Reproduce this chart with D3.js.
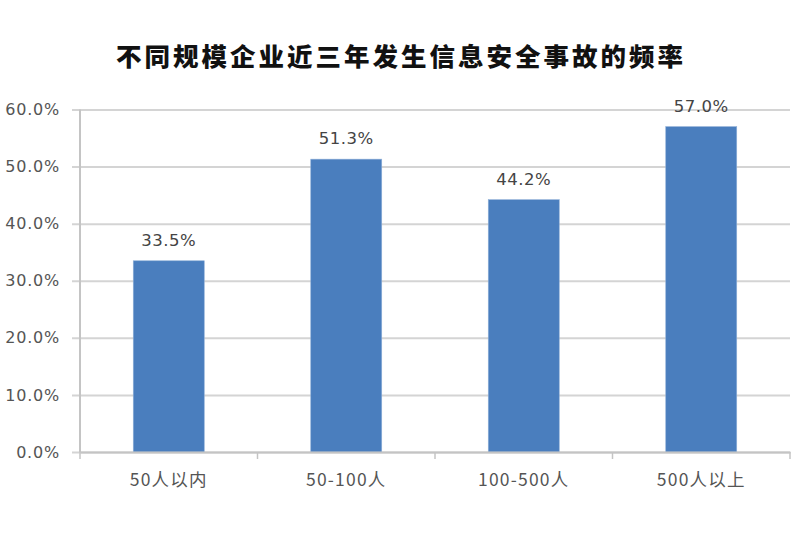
<!DOCTYPE html>
<html>
<head>
<meta charset="utf-8">
<script src="https://cdn.jsdelivr.net/npm/d3@7"></script>
<style>
  html, body { margin: 0; padding: 0; background: #fff; }
  svg { display: block; }
</style>
</head>
<body>
<svg id="chart" width="800" height="550"></svg>
<script>
const title = "不同规模企业近三年发生信息安全事故的频率";
const categories = ["50人以内", "50-100人", "100-500人", "500人以上"];
const values = [33.5, 51.3, 44.2, 57.0];
const yTicks = [0, 10, 20, 30, 40, 50, 60];

(function () {
const svg = d3.select("#chart");
const pLeft = 80, pRight = 790, pTop = 109.5, pBottom = 452;
const font = "'Noto Sans CJK SC', 'Noto Sans', sans-serif";

const x = d3.scaleBand().domain(categories).range([pLeft, pRight])
  .paddingInner(0.6).paddingOuter(0.3);
const y = d3.scaleLinear().domain([0, 60]).range([pBottom, pTop]);

// title
svg.append("text")
  .attr("x", 401).attr("y", 66)
  .attr("text-anchor", "middle")
  .attr("font-family", font)
  .attr("font-size", 25.5).attr("font-weight", 900)
  .attr("letter-spacing", 3)
  .attr("fill", "#111")
  .text(title);

// y axis with gridlines
const yAxis = d3.axisLeft(y).tickValues(yTicks)
  .tickFormat(d => d.toFixed(1) + "%")
  .tickSize(-(pRight - pLeft)).tickPadding(12);
const gy = svg.append("g").attr("transform", `translate(${pLeft},0)`).call(yAxis);
gy.select(".domain").remove();
gy.selectAll(".tick line").attr("stroke", "#d4d4d4").attr("stroke-width", 2)
  .attr("x1", -8);
gy.selectAll(".tick text")
  .attr("font-family", "'DejaVu Sans', sans-serif")
  .attr("font-size", 16).attr("letter-spacing", 0.8)
  .attr("fill", "#555").attr("x", -20);

// y axis line
svg.append("line").attr("x1", pLeft).attr("x2", pLeft)
  .attr("y1", pTop).attr("y2", pBottom)
  .attr("stroke", "#c4c4c4").attr("stroke-width", 2);

// bars
svg.append("g").selectAll("rect").data(values).join("rect")
  .attr("x", (d, i) => x(categories[i]))
  .attr("width", x.bandwidth())
  .attr("y", d => y(d))
  .attr("height", d => y(0) - y(d))
  .attr("fill", "#4a7ebe")
  .attr("stroke", "#8fb0d8").attr("stroke-width", 0.6);

// data labels
svg.append("g").selectAll("text").data(values).join("text")
  .attr("x", (d, i) => x(categories[i]) + x.bandwidth() / 2)
  .attr("y", d => y(d) - 15)
  .attr("text-anchor", "middle")
  .attr("font-family", "'DejaVu Sans', sans-serif")
  .attr("font-size", 16.5).attr("letter-spacing", 0.5)
  .attr("fill", "#444")
  .text(d => d.toFixed(1) + "%");

// x axis
const xAxis = d3.axisBottom(x).tickSize(0).tickPadding(22);
const gx = svg.append("g").attr("transform", `translate(0,${pBottom})`).call(xAxis);
gx.select(".domain").attr("stroke", "#c4c4c4").attr("stroke-width", 2);
gx.selectAll(".tick text")
  .attr("font-family", font)
  .attr("font-size", 17.5).attr("letter-spacing", 1.2)
  .attr("fill", "#555");

// category boundary ticks
const bounds = d3.range(categories.length + 1).map(i => pLeft + i * x.step());
svg.append("g").selectAll("line").data(bounds).join("line")
  .attr("x1", d => d).attr("x2", d => d)
  .attr("y1", pBottom).attr("y2", pBottom + 7)
  .attr("stroke", "#c4c4c4").attr("stroke-width", 1.5);
})();
</script>
</body>
</html>
